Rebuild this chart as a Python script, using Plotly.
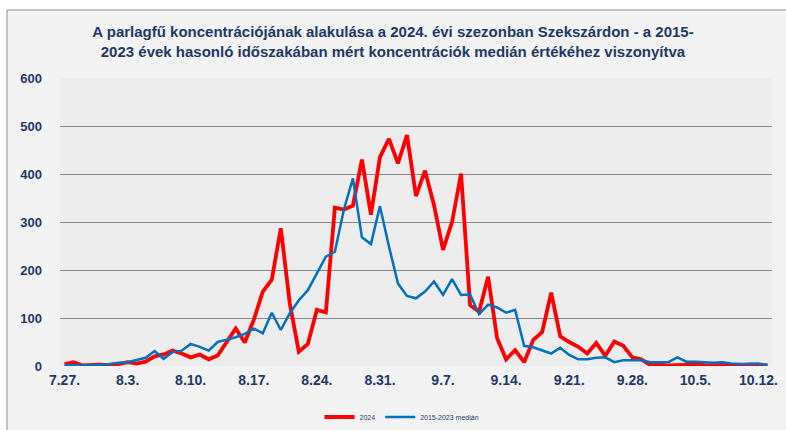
import pandas as pd
import plotly.graph_objects as go

start_date = "2024-07-27"
series_2024 = [4, 8, 1, 2, 3, 2, 4, 8, 5, 9,
               20, 24, 32, 26, 18, 24, 14, 22, 50, 78,
               49, 96, 155, 180, 287, 130, 30, 46, 117, 112,
               330, 326, 334, 430, 315, 435, 473, 422, 481, 354,
               407, 335, 242, 300, 401, 127, 113, 186, 58, 14,
               33, 8, 54, 71, 153, 62, 50, 40, 26, 48,
               21, 51, 42, 18, 14, 2, 3, 1, 2, 3,
               4, 2, 1, 3, 2, 1, 3, 2, 1]
series_median = [1, 2, 1, 1, 2, 4, 7, 8, 12, 17,
                 31, 15, 29, 32, 46, 40, 32, 50, 55, 60,
                 67, 78, 68, 111, 75, 110, 137, 158, 193, 228,
                 238, 326, 391, 268, 254, 333, 249, 172, 146, 141,
                 155, 176, 148, 181, 148, 149, 108, 128, 122, 111,
                 117, 42, 39, 33, 26, 38, 23, 14, 14, 17,
                 18, 8, 12, 12, 12, 8, 8, 8, 18, 9,
                 9, 8, 7, 8, 5, 4, 4, 5, 2]
series_names = ["2024", "2015-2023 medián"]
title_text = ("A parlagfű koncentrációjának alakulása a 2024. évi szezonban Szekszárdon - a 2015-"
              "<br>2023 évek hasonló időszakában mért koncentrációk medián értékéhez viszonyítva")

dates = pd.date_range(start_date, periods=len(series_2024), freq="D")
navy = "#1f3864"

fig = go.Figure()
fig.add_trace(go.Scatter(x=dates, y=series_2024, mode="lines", name=series_names[0],
                         line=dict(color="#ff0000", width=3.8)))
fig.add_trace(go.Scatter(x=dates, y=series_median, mode="lines", name=series_names[1],
                         line=dict(color="#0070c0", width=2.5)))

L, R, T, B = 60, 14, 78, 64
W, H = 786, 430
pw, ph = W - L - R, H - T - B

def px_x(p):
    return (p - L) / pw

def px_y(p):
    return (H - B - p) / ph

fig.update_layout(
    width=W, height=H,
    margin=dict(l=L, r=R, t=T, b=B, autoexpand=False),
    paper_bgcolor="white",
    plot_bgcolor="rgba(0,0,0,0)",
    font=dict(family="Liberation Sans, Arial, sans-serif", color=navy),
    title=dict(text="<b>" + title_text + "</b>", x=0.5, xref="container", xanchor="center",
               y=1 - 37 / H, yanchor="middle",
               font=dict(size=15, color=navy, family="Liberation Sans Narrow, Liberation Sans, Arial")),
    showlegend=True,
    legend=dict(orientation="h", x=px_x(402), xanchor="center", y=px_y(417), yanchor="middle",
                font=dict(size=7, color=navy), bgcolor="rgba(0,0,0,0)", itemwidth=30),
    shapes=[
        dict(type="rect", xref="paper", yref="paper", x0=px_x(7), x1=px_x(800), y0=px_y(445), y1=px_y(10),
             fillcolor="#f2f2f2", line=dict(color="#8c8c8c", width=1), layer="below"),
        dict(type="rect", xref="paper", yref="paper", x0=0, x1=1, y0=0, y1=1,
             fillcolor="#ececec", line=dict(width=0), layer="below"),
    ],
)
fig.update_xaxes(
    range=[dates[0] - pd.Timedelta(hours=12), dates[-1] + pd.Timedelta(hours=12)],
    tick0=dates[0], dtick=7 * 24 * 3600 * 1000, tickformat="%-m.%-d.",
    showgrid=False, zeroline=False, showline=False, ticks="",
    tickfont=dict(size=14, color=navy, family="Liberation Sans, Arial", weight="bold"),
    ticklabelstandoff=4,
)
fig.update_yaxes(
    range=[0, 600], dtick=100, showgrid=True, gridcolor="#868686", gridwidth=1,
    zeroline=False, showline=False, ticks="",
    tickfont=dict(size=13, color=navy, family="Liberation Sans, Arial", weight="bold"),
    ticklabelstandoff=17,
)

fig.write_html("out.html", config={"displayModeBar": False},
               post_script="document.body.style.margin='0';document.body.style.overflow='hidden';")
